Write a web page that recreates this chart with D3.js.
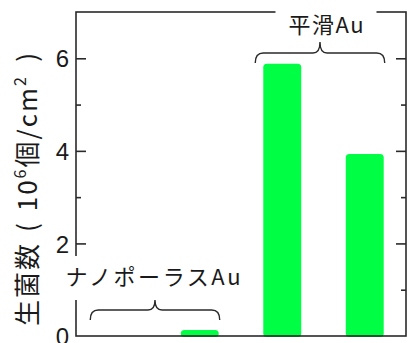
<!DOCTYPE html>
<html><head><meta charset="utf-8">
<script src="https://cdn.jsdelivr.net/npm/d3@7"></script>
<style>
html,body{margin:0;padding:0;background:#fff;}
svg{display:block;}
</style></head>
<body>
<script>
// ---- data ----
const categories = ["ナノポーラスAu-1", "ナノポーラスAu-2", "平滑Au-1", "平滑Au-2"];
const values = [0, 0.13, 5.88, 3.93];
const groupLabels = ["ナノポーラスAu", "平滑Au"];
const groupStart = [0, 2];
const groupEnd = [1, 3];
const majorTicks = [0, 2, 4, 6];
const minorTicks = [1, 3, 5];
const yTitleParts = ["生菌数", "(", "10", "6", "個/cm", "2", ")"];

// ---- layout ----
const W = 409, H = 343;
const L = 76, R = 406, T = 12, B = 336;
const axisColor = "#2a2a2a";
const barColor = "#00ff44";
const jpFont = "'Noto Sans CJK JP','Noto Sans',sans-serif";
const numFont = "'Liberation Sans',Arial,sans-serif";

const svg = d3.select("body").append("svg").attr("width", W).attr("height", H);

const x = d3.scaleBand().domain(categories).range([L, R]).paddingInner(0.54).paddingOuter(0.27);
const y = d3.scaleLinear().domain([0, 7]).range([B, T]);

// bars
svg.append("g").selectAll("rect").data(values).join("rect")
  .attr("x", (d, i) => x(categories[i]))
  .attr("width", x.bandwidth())
  .attr("y", d => y(d))
  .attr("height", d => d > 0 ? y(0) - y(d) + 1 : 0)
  .attr("rx", 3.5).attr("ry", 3.5)
  .attr("fill", barColor);

// frame
const frame = svg.append("g").attr("fill", "none").attr("stroke", axisColor).attr("stroke-width", 1.6);
frame.append("rect").attr("x", L).attr("y", T).attr("width", R - L).attr("height", B - T);

// ticks (inward on both sides)
const leftMajor = d3.axisRight(y).tickValues(majorTicks.filter(v => v > 0)).tickSize(10).tickFormat("");
const leftMinor = d3.axisRight(y).tickValues(minorTicks).tickSize(5).tickFormat("");
const rightMajor = d3.axisLeft(y).tickValues(majorTicks.filter(v => v > 0)).tickSize(10).tickFormat("");
const rightMinor = d3.axisLeft(y).tickValues(minorTicks).tickSize(5).tickFormat("");
[[leftMajor, L], [leftMinor, L], [rightMajor, R], [rightMinor, R]].forEach(([ax, px]) => {
  const g = svg.append("g").attr("transform", `translate(${px},0)`).call(ax);
  g.select(".domain").remove();
  g.selectAll("line").attr("stroke", axisColor).attr("stroke-width", 1.6);
});

// tick labels
const lab = svg.append("g").attr("transform", `translate(${L},0)`).call(
  d3.axisLeft(y).tickValues(majorTicks).tickSize(0).tickPadding(7).tickFormat(d3.format("d")));
lab.attr("font-family", numFont).attr("font-size", 24);
lab.select(".domain").remove();
lab.selectAll("text").attr("font-family", numFont).attr("font-size", 24).attr("fill", "#1a1a1a").attr("dy", "0.36em");

// group labels with white backing + braces
const braceY = [[300, 310, 320], [42, 53, 63]];   // tip, horizontal, end (px layout)
const labelBase = [285, 33];
const half = x.bandwidth() / 2;
groupLabels.forEach((t, gi) => {
  const x0 = x(categories[groupStart[gi]]) + half - 27;
  const x1 = x(categories[groupEnd[gi]]) + x.bandwidth() + 1;
  const xm = (x0 + x1) / 2;
  const [yt, yh, ye] = braceY[gi];
  const r = 8, r2 = 7;
  const p = d3.path();
  p.moveTo(x0, ye);
  p.quadraticCurveTo(x0, yh, x0 + r, yh);
  p.lineTo(xm - r2, yh);
  p.quadraticCurveTo(xm, yh, xm, yt);
  p.quadraticCurveTo(xm, yh, xm + r2, yh);
  p.lineTo(x1 - r, yh);
  p.quadraticCurveTo(x1, yh, x1, ye);
  const bg = svg.append("rect").attr("fill", "#fff");
  const tx = svg.append("text")
    .attr("x", gi === 0 ? xm - 2 : xm + 6).attr("y", labelBase[gi])
    .attr("text-anchor", "middle")
    .attr("font-family", jpFont).attr("font-size", 22)
    .attr("fill", "#1a1a1a")
    .attr("textLength", gi === 0 ? 175 : 75).attr("lengthAdjust", "spacing")
    .text(t);
  const bb = tx.node().getBBox();
  if (gi === 0) {
    bg.attr("x", bb.x - 4).attr("y", 256).attr("width", bb.width + 8).attr("height", 44);
  } else {
    bg.attr("x", bb.x - 13).attr("y", 2).attr("width", bb.width + 26).attr("height", bb.height);
  }
  svg.append("path").attr("d", p.toString()).attr("fill", "none")
    .attr("stroke", axisColor).attr("stroke-width", 1.4);
});

// y-axis title (rotated), extra room distributed around the parentheses
const ytTop = 51, ytBot = 326;
const yt = svg.append("text")
  .attr("transform", `translate(37,${ytBot}) rotate(-90)`)
  .attr("text-anchor", "start")
  .attr("font-family", jpFont).attr("font-size", 26).attr("fill", "#1a1a1a")
  .attr("letter-spacing", 2);
const sp = [
  yt.append("tspan").text(yTitleParts[0]),
  yt.append("tspan").text(yTitleParts[1]),
  yt.append("tspan").text(yTitleParts[2]),
  yt.append("tspan").attr("font-size", 16).attr("dy", -11).text(yTitleParts[3]),
  yt.append("tspan").attr("dy", 11).text(yTitleParts[4]),
  yt.append("tspan").attr("font-size", 16).attr("dy", -11).text(yTitleParts[5]),
  yt.append("tspan").attr("dy", 11).text(yTitleParts[6])
];
const natural = yt.node().getComputedTextLength();
const extra = Math.max(0, (ytBot - ytTop) - natural);
sp[1].attr("dx", extra * 0.3);
sp[2].attr("dx", extra * 0.3);
sp[6].attr("dx", extra * 0.4);
</script>
</body></html>
